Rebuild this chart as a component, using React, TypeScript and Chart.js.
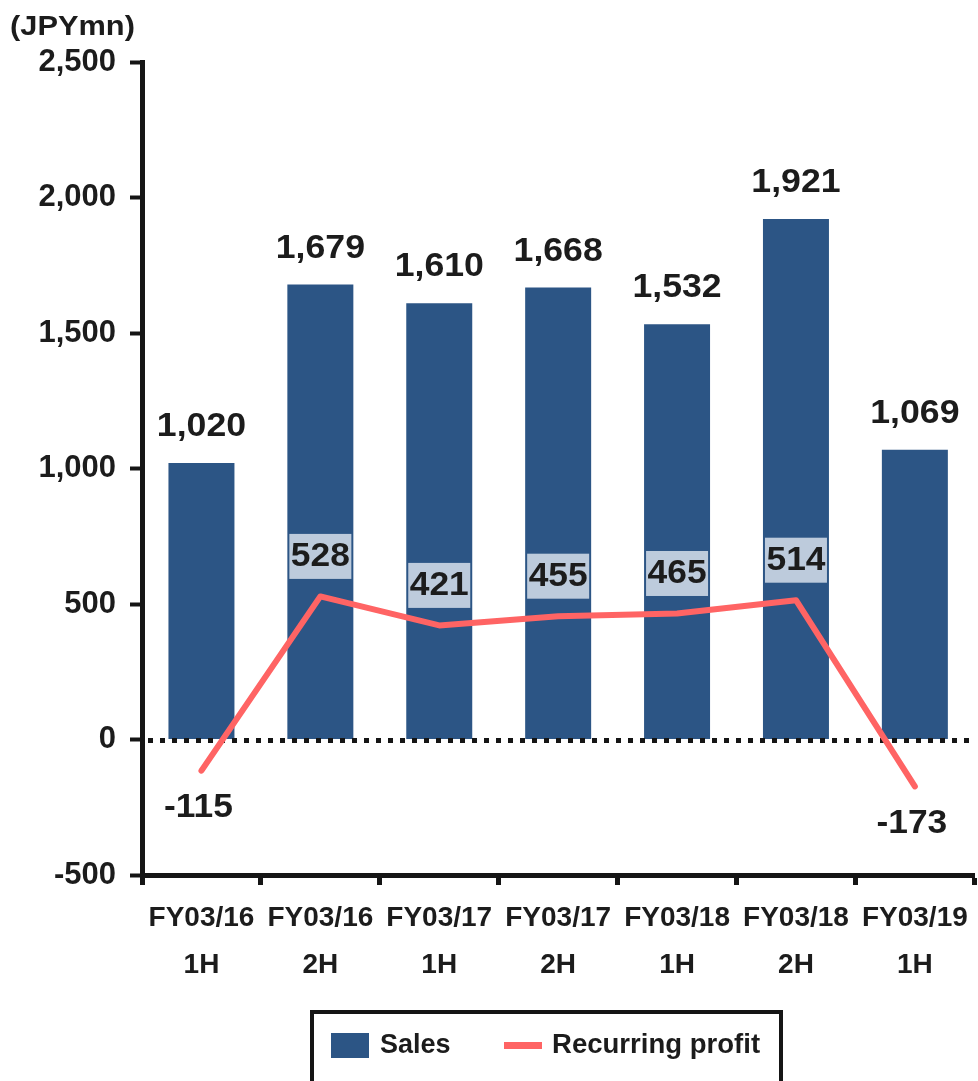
import React, { useEffect, useRef } from 'react';
import { Chart, registerables } from 'chart.js';

Chart.register(...registerables);

const categories: string[][] = [
  ['FY03/16', '1H'],
  ['FY03/16', '2H'],
  ['FY03/17', '1H'],
  ['FY03/17', '2H'],
  ['FY03/18', '1H'],
  ['FY03/18', '2H'],
  ['FY03/19', '1H'],
];
const salesValues: number[] = [1020, 1679, 1610, 1668, 1532, 1921, 1069];
const profitValues: number[] = [-115, 528, 421, 455, 465, 514, -173];
const seriesNames: string[] = ['Sales', 'Recurring profit'];
const unitLabel = '(JPYmn)';
const yMin = -500;
const yMax = 2500;
const yStep = 500;

const BAR_COLOR = '#2C5585';
const LINE_COLOR = '#FF6464';
const BOX_COLOR = '#BDCBDC';
const TEXT_COLOR = '#1c1c1c';
const AXIS_COLOR = '#151515';
const FONT = '"Liberation Sans", Arial, Helvetica, sans-serif';

const fmt = (v: number) => v.toLocaleString('en-US');

function drawText(
  ctx: CanvasRenderingContext2D,
  text: string,
  x: number,
  y: number,
  size: number,
  sx: number,
  align: CanvasTextAlign = 'center'
) {
  ctx.save();
  ctx.translate(x, y);
  ctx.scale(sx, 1);
  ctx.font = `bold ${size}px ${FONT}`;
  ctx.textAlign = align;
  ctx.textBaseline = 'middle';
  ctx.fillStyle = TEXT_COLOR;
  ctx.fillText(text, 0, 0);
  ctx.restore();
}

const decorPlugin = {
  id: 'decor',
  afterDatasetDraw(chart: any, args: any) {
    if (args.index !== 0) return;
    const { ctx, chartArea, scales } = chart;
    const y0 = Math.round(scales.y.getPixelForValue(0)) + 0.5;
    ctx.save();
    ctx.strokeStyle = AXIS_COLOR;
    ctx.lineWidth = 5;
    ctx.setLineDash([5, 7]);
    ctx.beginPath();
    ctx.moveTo(chartArea.left + 6, y0);
    ctx.lineTo(chartArea.right, y0);
    ctx.stroke();
    ctx.restore();
  },
  afterDraw(chart: any) {
    const { ctx } = chart;
    const barMeta = chart.getDatasetMeta(0);
    const lineMeta = chart.getDatasetMeta(1);
    const sx = 1.08;

    // sales labels
    salesValues.forEach((v, i) => {
      const el = barMeta.data[i];
      drawText(ctx, fmt(v), el.x, el.y - 36, 33, sx);
    });

    // profit labels
    profitValues.forEach((v, i) => {
      const pt = lineMeta.data[i];
      const txt = fmt(v);
      if (v >= 0) {
        const cy = pt.y - 40;
        ctx.save();
        ctx.font = `bold 34px ${FONT}`;
        const w = ctx.measureText(txt).width * 1.04 + 3;
        ctx.fillStyle = BOX_COLOR;
        ctx.fillRect(pt.x - w / 2, cy - 22.5, w, 45);
        ctx.restore();
        drawText(ctx, txt, pt.x, cy, 34, 1.04);
      } else {
        drawText(ctx, txt, pt.x - 3, pt.y + 37, 34, 1.04);
      }
    });

    // unit label
    drawText(ctx, unitLabel, 10, 27, 28, 1.1, 'left');

    // legend
    ctx.save();
    ctx.strokeStyle = AXIS_COLOR;
    ctx.lineWidth = 4;
    ctx.strokeRect(312, 1012, 469, 90);
    ctx.fillStyle = BAR_COLOR;
    ctx.fillRect(331, 1033, 38, 25);
    ctx.fillStyle = LINE_COLOR;
    ctx.fillRect(504, 1042, 38, 7);
    ctx.restore();
    drawText(ctx, seriesNames[0], 380, 1046, 27, 1, 'left');
    drawText(ctx, seriesNames[1], 552, 1046, 27, 1.02, 'left');
  },
};

export default function App() {
  const ref = useRef<HTMLCanvasElement | null>(null);

  useEffect(() => {
    if (!ref.current) return;
    const chart = new Chart(ref.current, {
      type: 'bar',
      data: {
        labels: categories,
        datasets: [
          {
            type: 'bar',
            label: seriesNames[0],
            data: salesValues,
            backgroundColor: BAR_COLOR,
            borderWidth: 0,
            barPercentage: 0.555,
            categoryPercentage: 1,
            order: 1,
          },
          {
            type: 'line',
            label: seriesNames[1],
            data: profitValues,
            borderColor: LINE_COLOR,
            borderWidth: 6,
            borderCapStyle: 'round',
            borderJoinStyle: 'round',
            pointRadius: 0,
            tension: 0,
            fill: false,
            order: 0,
          } as any,
        ],
      },
      options: {
        responsive: false,
        animation: false,
        layout: { padding: { top: 62, right: 3, left: 0, bottom: 0 } },
        plugins: {
          legend: { display: false },
          tooltip: { enabled: false },
        },
        scales: {
          x: {
            offset: true,
            grid: {
              display: true,
              offset: true,
              drawOnChartArea: false,
              drawTicks: true,
              tickLength: 10,
              tickWidth: 5,
              tickColor: AXIS_COLOR,
            },
            border: { display: true, width: 5, color: AXIS_COLOR },
            ticks: {
              autoSkip: false,
              maxRotation: 0,
              minRotation: 0,
              color: TEXT_COLOR,
              padding: 10,
              font: { family: FONT, size: 28, weight: 'bold', lineHeight: 1.68 },
            },
            afterFit: (scale: any) => {
              scale.height = 206;
            },
          },
          y: {
            min: yMin,
            max: yMax,
            ticks: {
              stepSize: yStep,
              color: TEXT_COLOR,
              padding: 14,
              font: { family: FONT, size: 31, weight: 'bold' },
              callback: (v: any) => fmt(Number(v)),
            },
            grid: {
              display: true,
              drawOnChartArea: false,
              drawTicks: true,
              tickLength: 12,
              tickWidth: 4,
              tickColor: AXIS_COLOR,
            },
            border: { display: true, width: 5, color: AXIS_COLOR },
            afterFit: (scale: any) => {
              scale.width = 142;
            },
          },
        },
      },
      plugins: [decorPlugin],
    });
    return () => chart.destroy();
  }, []);

  return (
    <div style={{ position: 'absolute', left: 0, top: 0, width: 978, height: 1081, background: '#fff' }}>
      <canvas ref={ref} width={978} height={1081} style={{ display: 'block' }} />
    </div>
  );
}
